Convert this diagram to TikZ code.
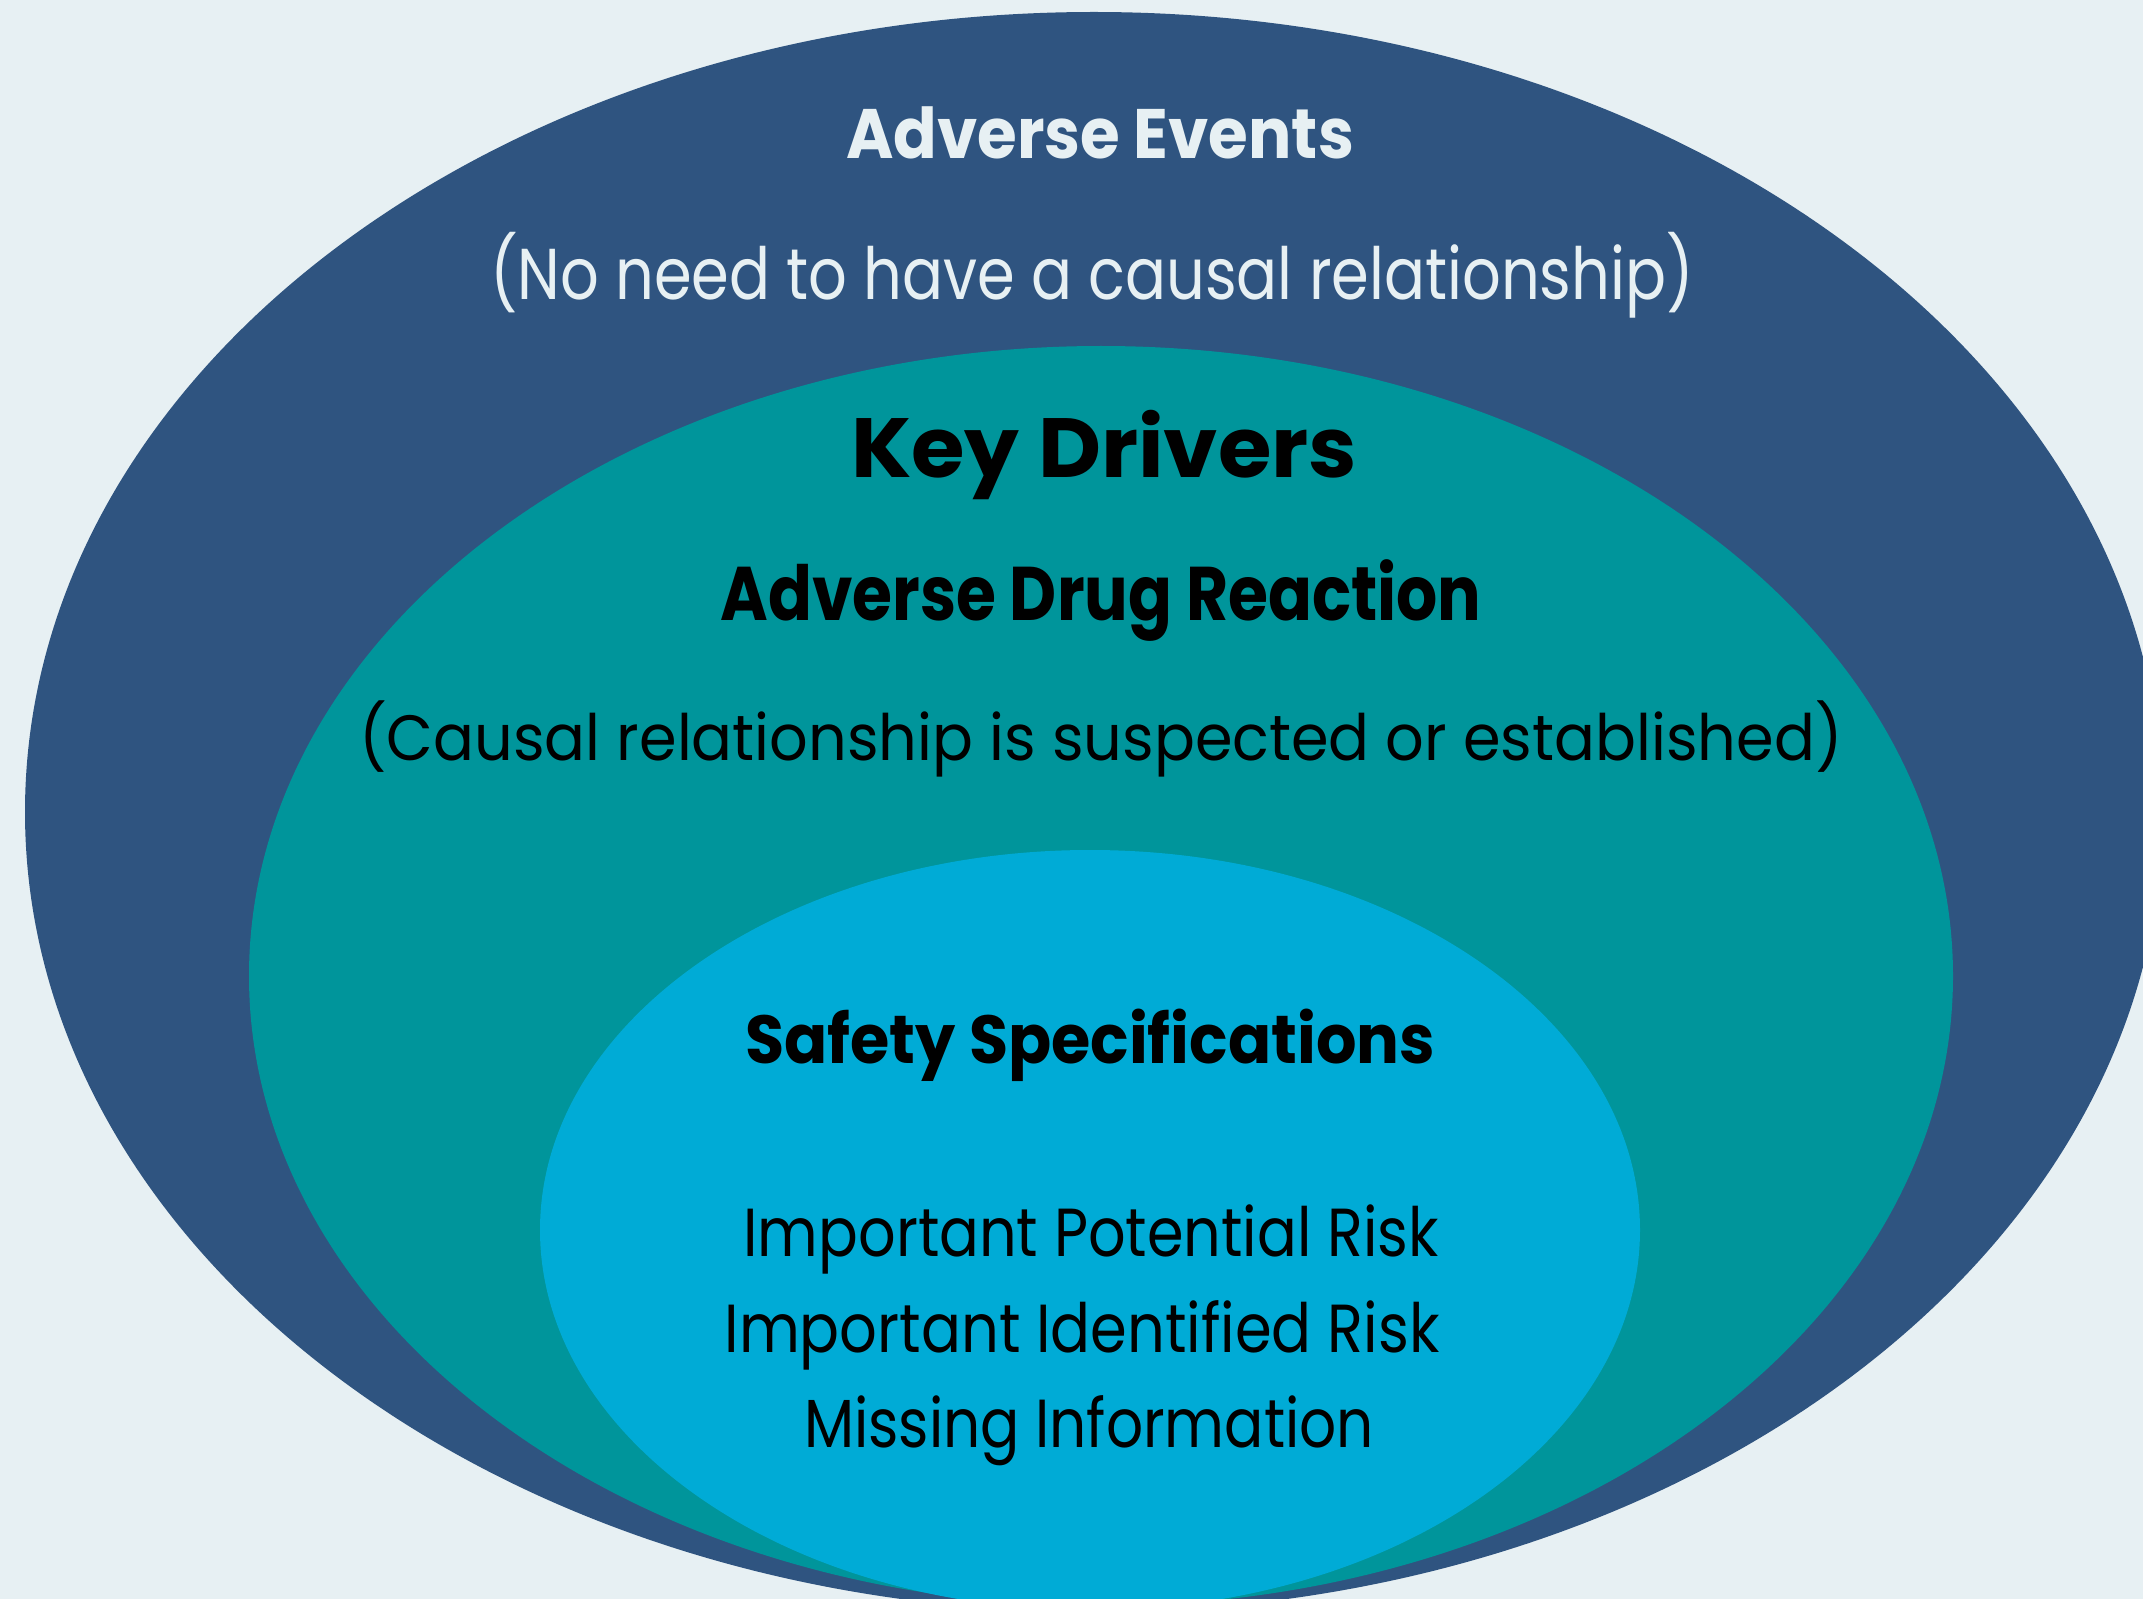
\documentclass[tikz,border=0pt]{standalone}
\usepackage{fontspec}
\setmainfont{Poppins}
\usepackage{graphicx}

\definecolor{bgcol}{HTML}{E7F0F3}
\definecolor{aecol}{HTML}{2F5480}
\definecolor{adrcol}{HTML}{00959B}
\definecolor{sscol}{HTML}{00ABD6}

\newsavebox\fitbox
\newlength\fitlen
\newcommand\fitw[2]{\sbox\fitbox{#2}\setlength\fitlen{\wd\fitbox}%
  \pgfmathsetmacro\fitfac{0.5*#1/\fitlen}\scalebox{\fitfac}[1]{\usebox\fitbox}}

\begin{document}
\begin{tikzpicture}[x=0.5pt,y=-0.5pt,
    lbl/.style={anchor=base,inner sep=0pt},
    fs/.style={font={\fontsize{#1}{#1}\selectfont}},
    fsb/.style={font={\fontsize{#1}{#1}\selectfont\bfseries}}]
    \pgfmathsetmacro{\W}{2143}
    \pgfmathsetmacro{\H}{1599}

    \fill[bgcol] (0,0) rectangle (\W,\H);
    \useasboundingbox (0,0) rectangle (\W,\H);
    \clip (0,0) rectangle (\W,\H);

    \coordinate (AE) at (1094,812);
    \coordinate (ADR) at (1101,976);
    \coordinate (SS) at (1090,1230);

    \fill[aecol] (AE) ellipse [x radius=1069, y radius=800];
    \fill[adrcol] (ADR) ellipse [x radius=852, y radius=630];
    \fill[sscol] (SS) ellipse [x radius=550, y radius=380];

    % \foreach \x in {AE,ADR,SS}{
    %     \filldraw (\x) circle (3) node {\x};
    % }
    \node[lbl,fsb=35,text=bgcol] (aetitle) at (1100,159) {\fitw{508}{Adverse Events}};
    \node[lbl,fs=36,text=bgcol] (aenote) at (1092,300) {\fitw{1204}{(No need to have a causal relationship)}};
    \node[lbl,fsb=42] (keyd) at (1104,478) {\fitw{506}{Key Drivers}};
    \node[lbl,fsb=38] (adrtitle) at (1101,620) {\fitw{761}{Adverse Drug Reaction}};
    \node[lbl,fs=32] (adrnote) at (1101,760) {\fitw{1483}{(Causal relationship is suspected or established)}};
    \node[lbl,fsb=34] (sstitle) at (1090,1063) {\fitw{690}{Safety Specifications}};
    \node[lbl,fs=34] (ipr) at (1091,1256) {\fitw{695}{Important Potential Risk}};
    \node[lbl,fs=34] (iir) at (1082,1352) {\fitw{715}{Important Identified Risk}};
    \node[lbl,fs=34] (mi) at (1089,1447) {\fitw{570}{Missing Information}};

\end{tikzpicture}
\end{document}
